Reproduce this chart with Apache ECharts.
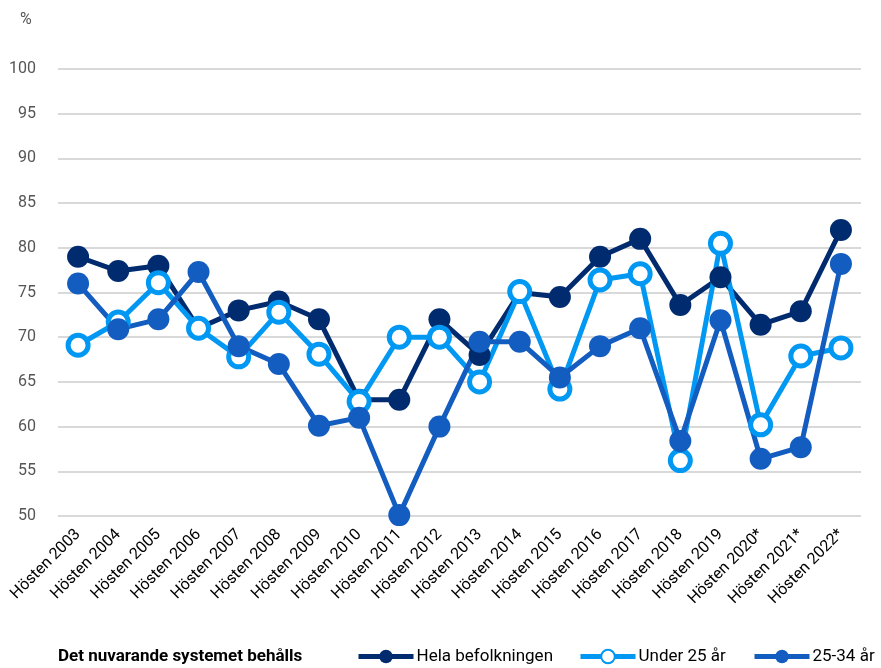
<!DOCTYPE html>
<html>
<head>
<meta charset="utf-8">
<script src="https://cdn.jsdelivr.net/npm/echarts@6/dist/echarts.min.js"></script>
<style>
html, body { margin: 0; padding: 0; background: #fff; }
#echart { width: 881px; height: 668px; }
</style>
</head>
<body>
<div id="echart"></div>
<script>
var categories = ['Hösten 2003', 'Hösten 2004', 'Hösten 2005', 'Hösten 2006', 'Hösten 2007', 'Hösten 2008', 'Hösten 2009', 'Hösten 2010', 'Hösten 2011', 'Hösten 2012', 'Hösten 2013', 'Hösten 2014', 'Hösten 2015', 'Hösten 2016', 'Hösten 2017', 'Hösten 2018', 'Hösten 2019', 'Hösten 2020*', 'Hösten 2021*', 'Hösten 2022*'];
var helaBefolkningen = [79, 77.4, 78, 71, 73, 74, 72, 63, 63, 72, 68, 75, 74.5, 79, 81, 73.6, 76.7, 71.4, 72.9, 82];
var under25 = [69.1, 71.7, 76.1, 71, 67.8, 72.8, 68.1, 62.8, 70, 70, 65, 75.1, 64.2, 76.4, 77.1, 56.2, 80.5, 60.2, 67.9, 68.8];
var ar25till34 = [76, 70.9, 72, 77.3, 69, 67, 60.1, 61, 50.1, 60, 69.5, 69.5, 65.5, 69, 71, 58.4, 71.9, 56.4, 57.7, 78.2];
var seriesNames = ['Hela befolkningen', 'Under 25 år', '25-34 år'];

var font = 'Roboto, sans-serif';
var navy = '#002b6e';
var light = '#0098f2';
var mid = '#135dc0';

// one legend per item so they sit where the reference has them
var legendLeft = [356, 578, 752];
var legends = seriesNames.map(function (name, i) {
    return {
        left: legendLeft[i],
        top: 648,
        padding: 0,
        itemWidth: 55,
        itemHeight: 17,
        lineStyle: { width: 5 },
        textStyle: { fontFamily: font, fontSize: 17, color: '#000', padding: [0, 0, 0, -2] },
        data: [name]
    };
});

var myChart = echarts.init(document.getElementById('echart'));
option = {
    animation: false,
    textStyle: { fontFamily: font },
    title: {
        text: 'Det nuvarande systemet behålls',
        left: 58,
        top: 648,
        padding: 0,
        textStyle: { fontFamily: font, fontSize: 17, fontWeight: 'bold', color: '#000' }
    },
    graphic: [{
        type: 'text',
        left: 20,
        top: 12,
        style: { text: '%', fontFamily: font, fontSize: 16, fill: '#555' }
    }],
    legend: legends,
    grid: {
        left: 58,
        right: 20,
        top: 69,
        bottom: 152
    },
    xAxis: {
        type: 'category',
        boundaryGap: true,
        data: categories,
        axisLine: { show: false },
        axisTick: { show: false },
        axisLabel: {
            rotate: 45,
            interval: 0,
            margin: 16,
            fontFamily: font,
            fontSize: 16,
            color: '#000'
        }
    },
    yAxis: {
        type: 'value',
        min: 50,
        max: 100,
        interval: 5,
        axisLine: { show: false },
        axisTick: { show: false },
        axisLabel: { fontFamily: font, fontSize: 16, color: '#555', margin: 22 },
        splitLine: { lineStyle: { color: '#d9d9d9', width: 2 } }
    },
    series: [
        {
            name: seriesNames[0],
            type: 'line',
            data: helaBefolkningen,
            symbol: 'circle',
            symbolSize: 22,
            lineStyle: { color: navy, width: 5 },
            itemStyle: { color: navy }
        },
        {
            name: seriesNames[1],
            type: 'line',
            data: under25,
            symbol: 'circle',
            symbolSize: 20,
            lineStyle: { color: light, width: 5 },
            itemStyle: { color: '#fff', borderColor: light, borderWidth: 5 }
        },
        {
            name: seriesNames[2],
            type: 'line',
            data: ar25till34,
            symbol: 'circle',
            symbolSize: 22,
            lineStyle: { color: mid, width: 5 },
            itemStyle: { color: mid }
        }
    ]
};
myChart.setOption(option);
</script>
</body>
</html>
